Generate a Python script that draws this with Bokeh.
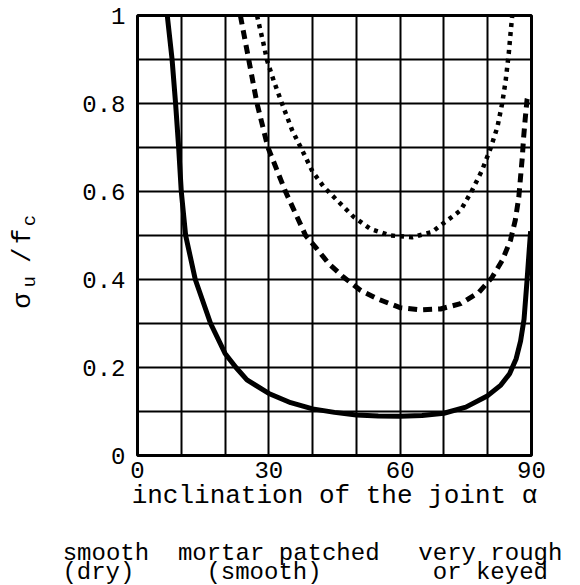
from bokeh.plotting import figure
from bokeh.models import FixedTicker, Range1d, LinearAxis, AllLabels
from bokeh.embed import file_html
from bokeh.resources import INLINE

# ---- data ----
alpha_smooth = [6.8, 7.9, 8.7, 9.4, 10.0, 11.0, 13.2, 16.7, 20.0, 22.5, 25.0, 30.0, 35.0, 40.0,
                45.0, 50.0, 55.0, 60.0, 65.0, 70.0, 75.0, 80.0, 83.0, 85.0, 86.5, 87.5, 88.3,
                89.0, 89.5, 89.8]
sigma_smooth = [1.0, 0.9, 0.8, 0.7, 0.6, 0.5, 0.4, 0.3, 0.232, 0.2, 0.172, 0.141, 0.12, 0.106,
                0.098, 0.092, 0.09, 0.089, 0.091, 0.096, 0.11, 0.136, 0.16, 0.186, 0.22, 0.26,
                0.31, 0.40, 0.47, 0.51]

alpha_mortar = [23.5, 25.4, 27.3, 29.8, 33.8, 38.4, 40.7, 43.7, 47.1, 51.0, 55.3, 60.0, 64.6,
                69.2, 73.8, 78.0, 81.0, 83.3, 85.2, 86.3, 87.1, 87.5, 87.9, 88.2, 88.6, 89.0, 89.3]
sigma_mortar = [1.0, 0.9, 0.8, 0.7, 0.6, 0.5, 0.473, 0.436, 0.405, 0.375, 0.354, 0.336, 0.331,
                0.333, 0.345, 0.371, 0.405, 0.443, 0.489, 0.535, 0.587, 0.633, 0.678, 0.723,
                0.769, 0.81, 0.82]

alpha_rough = [27.3, 28.8, 29.6, 31.1, 33.0, 35.3, 38.0, 40.0, 42.6, 45.6, 49.4, 53.2, 57.8,
               62.7, 67.3, 70.7, 73.8, 76.4, 78.7, 80.6, 82.2, 83.3, 84.1, 84.8, 85.2, 85.6]
sigma_rough = [1.0, 0.935, 0.898, 0.852, 0.8, 0.74, 0.686, 0.645, 0.61, 0.58, 0.542, 0.515, 0.5,
               0.496, 0.508, 0.534, 0.557, 0.602, 0.648, 0.697, 0.746, 0.8, 0.852, 0.913, 0.958,
               1.0]

x_ticks = [0, 30, 60, 90]
y_ticks = [0, 0.2, 0.4, 0.6, 0.8, 1.0]
y_tick_labels = ["0", "0.2", "0.4", "0.6", "0.8", "1"]
x_grid = [0, 10, 20, 30, 40, 50, 60, 70, 80, 90]
y_grid = [0, 0.1, 0.2, 0.3, 0.4, 0.5, 0.6, 0.7, 0.8, 0.9, 1.0]
x_label = "inclination of the joint \u03b1"
# y-axis title sigma_u / f_c, split into main characters and subscripts (placed along the y scale)
y_title_main = {0.352: "\u03c3", 0.455: "/", 0.498: "f"}
y_title_sub = {0.395: "u", 0.534: "c"}
# legend captions under the chart (monospace, non-breaking spaces keep the columns)
NB = "\u00a0"
legend_line1 = {19.1: "smooth" + NB * 2 + "mortar patched", 80.6: "very rough"}
legend_line2 = {12.45: "(dry)" + NB * 5 + "(smooth)", 80.6: "or keyed"}

FONT = "Liberation Mono"


def bare_axis(ax):
    ax.axis_line_color = None
    ax.major_tick_line_color = None
    ax.minor_tick_line_color = None
    ax.major_tick_out = 0
    ax.major_tick_in = 0
    ax.minor_tick_out = 0
    ax.minor_tick_in = 0
    ax.major_label_text_font = FONT
    ax.major_label_text_color = "black"


p = figure(frame_width=394, frame_height=440, output_backend="svg", toolbar_location=None,
           x_range=Range1d(0, 90), y_range=Range1d(0, 1), title=None,
           min_border_left=137, min_border_right=49, min_border_top=15,
           min_border_bottom=135)
p.background_fill_color = "white"
p.border_fill_color = "white"
p.outline_line_color = "black"
p.outline_line_width = 3

p.xgrid.ticker = FixedTicker(ticks=x_grid)
p.ygrid.ticker = FixedTicker(ticks=y_grid)
for g in (p.xgrid, p.ygrid):
    g.grid_line_color = "black"
    g.grid_line_width = 2
    g.grid_line_alpha = 1.0

p.xaxis.ticker = FixedTicker(ticks=x_ticks)
p.yaxis.ticker = FixedTicker(ticks=y_ticks)
p.yaxis.major_label_overrides = {t: l for t, l in zip(y_ticks, y_tick_labels)}
for ax in (p.xaxis, p.yaxis):
    bare_axis(ax)
    ax.major_label_text_font_size = "24px"
p.yaxis.major_label_standoff = 12
p.xaxis.major_label_standoff = 6
p.xaxis.axis_label = x_label
p.xaxis.axis_label_text_font = FONT
p.xaxis.axis_label_text_font_size = "26px"
p.xaxis.axis_label_text_font_style = "normal"
p.xaxis.axis_label_text_color = "black"
p.xaxis.axis_label_standoff = 0

# rotated y title: subscripts (closer to the frame) and main characters (outer)
sub_axis = LinearAxis(ticker=FixedTicker(ticks=list(y_title_sub.keys())),
                      major_label_overrides=y_title_sub, major_label_policy=AllLabels(),
                      major_label_orientation="vertical")
bare_axis(sub_axis)
sub_axis.major_label_text_font_size = "19px"
sub_axis.major_label_standoff = 38
p.add_layout(sub_axis, "left")

main_axis = LinearAxis(ticker=FixedTicker(ticks=list(y_title_main.keys())),
                       major_label_overrides=y_title_main, major_label_policy=AllLabels(),
                       major_label_orientation="vertical")
bare_axis(main_axis)
main_axis.major_label_text_font_size = "26px"
main_axis.major_label_standoff = -22
p.add_layout(main_axis, "left")

# legend captions: two extra rows of labels below the x axis
leg1 = LinearAxis(ticker=FixedTicker(ticks=list(legend_line1.keys())),
                  major_label_overrides=legend_line1, major_label_policy=AllLabels())
bare_axis(leg1)
leg1.major_label_text_font_size = "24px"
leg1.major_label_standoff = 26
p.add_layout(leg1, "below")

leg2 = LinearAxis(ticker=FixedTicker(ticks=list(legend_line2.keys())),
                  major_label_overrides=legend_line2, major_label_policy=AllLabels())
bare_axis(leg2)
leg2.major_label_text_font_size = "24px"
leg2.major_label_standoff = -11
p.add_layout(leg2, "below")

p.line(alpha_smooth, sigma_smooth, line_color="black", line_width=5)
p.line(alpha_mortar, sigma_mortar, line_color="black", line_width=5, line_dash="9 6")
p.line(alpha_rough, sigma_rough, line_color="black", line_width=4.5, line_dash="4 5")

open("out.html", "w").write(file_html(p, INLINE))
